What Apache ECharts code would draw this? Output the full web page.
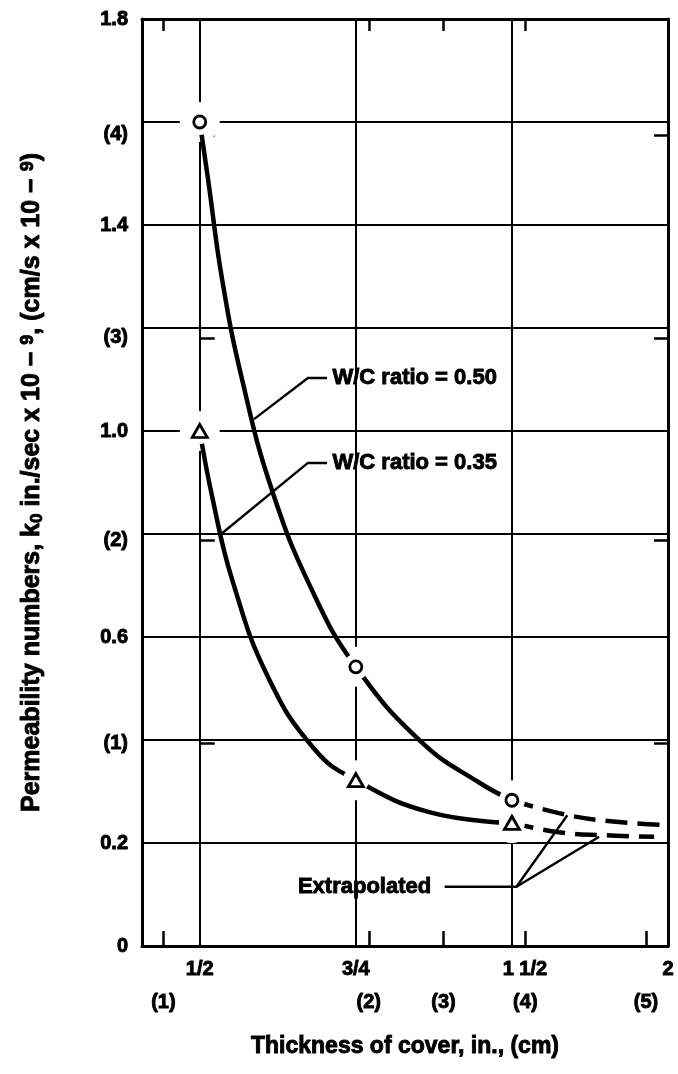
<!DOCTYPE html>
<html><head><meta charset="utf-8">
<script src="https://cdn.jsdelivr.net/npm/echarts@6/dist/echarts.min.js"></script>
<style>html,body{margin:0;padding:0;background:#fff}#c{width:678px;height:1074px}</style>
</head><body><div id="c"></div>
<script>
// ---- data ----
const inchTickPos = [0, 1, 2, 3];
const inchTickLabels = ['1/2', '3/4', '1 1/2', '2'];
const cmTickPosX = [-0.233, 1.083, 1.562, 2.086, 2.859];
const cmTickLabelsX = ['(1)', '(2)', '(3)', '(4)', '(5)'];
const yTickLabelValues = [0, 0.2, 0.6, 1.0, 1.4, 1.8];
const cmTickPosY = [0.394, 0.787, 1.181, 1.575];
const cmTickLabelsY = ['(1)', '(2)', '(3)', '(4)'];

const points050 = [[0, 1.6], [1, 0.542], [2, 0.283]];
const points035 = [[0, 1.0], [1, 0.322], [2, 0.239]];
const curve050 = [[0, 1.6], [0.054, 1.487], [0.144, 1.293], [0.272, 1.099], [0.463, 0.885], [0.719, 0.691], [1, 0.542], [1.428, 0.394], [1.792, 0.317], [2, 0.283]];
const extrap050 = [[2, 0.283], [2.3, 0.258], [2.6, 0.243], [2.99, 0.235]];
const curve035 = [[0, 1.0], [0.08, 0.872], [0.208, 0.711], [0.438, 0.522], [0.738, 0.381], [1, 0.322], [1.47, 0.26], [2, 0.239]];
const extrap035 = [[2, 0.239], [2.3, 0.221], [2.6, 0.215], [2.911, 0.212]];
const annotationTexts = ['W/C ratio = 0.50', 'W/C ratio = 0.35', 'Extrapolated'];
const xTitle = 'Thickness of cover, in., (cm)';
const yTitle = 'Permeability numbers, k{sub|0} in./sec x 10 − {sup|9}, (cm/s x 10 − {sup|9})';

// ---- chart ----
const FONT = '"Liberation Sans", Arial, sans-serif';
const txt = { color: '#000', fontFamily: FONT, fontWeight: 'bold', fontSize: 20, textBorderColor: '#000', textBorderWidth: 0.9 };
const X0 = -0.37, X1 = 3, Y0 = 0, Y1 = 1.8;
const chart = echarts.init(document.getElementById('c'), null, { renderer: 'canvas' });

const lineBase = { type: 'line', z: 3, silent: true, smooth: 0.45, showSymbol: false, symbol: 'none' };

const option = {
  backgroundColor: '#fff',
  animation: false,
  grid: { left: 142, right: 10, top: 19, bottom: 128, containLabel: false },
  xAxis: [
    {
      type: 'value', min: X0, max: X1, position: 'bottom',
      axisLine: { show: true, onZero: false, lineStyle: { color: '#000', width: 3 } },
      axisTick: { show: false, customValues: inchTickPos },
      axisLabel: {
        customValues: inchTickPos, margin: 13, ...txt,
        formatter: v => { const i = inchTickPos.indexOf(v); const s = inchTickLabels[i]; return i === 2 ? '{s|' + s + '}' : s; },
        rich: { s: { ...txt, padding: [0, 0, 0, 26] } }
      },
      splitLine: { show: true, lineStyle: { color: '#000', width: 2 } },
      name: xTitle, nameLocation: 'middle', nameGap: 89,
      nameTextStyle: { ...txt, fontSize: 23 }
    },
    {
      type: 'value', min: X0, max: X1, position: 'bottom',
      axisLine: { show: false },
      axisTick: { show: true, inside: true, length: 15, customValues: cmTickPosX, lineStyle: { color: '#000', width: 2.5 } },
      axisLabel: { customValues: cmTickPosX, margin: 46, ...txt, formatter: v => cmTickLabelsX[cmTickPosX.indexOf(v)] },
      splitLine: { show: false }
    },
    {
      type: 'value', min: X0, max: X1, position: 'top',
      axisLine: { show: true, onZero: false, lineStyle: { color: '#000', width: 3 } },
      axisTick: { show: true, inside: true, length: 12, customValues: cmTickPosX.slice(0, 4), lineStyle: { color: '#000', width: 2.5 } },
      axisLabel: { show: false },
      splitLine: { show: false }
    }
  ],
  yAxis: [
    {
      type: 'value', min: Y0, max: Y1, interval: 0.2, position: 'left',
      axisLine: { show: true, onZero: false, lineStyle: { color: '#000', width: 3 } },
      axisTick: { show: false },
      axisLabel: { customValues: yTickLabelValues, margin: 14, ...txt, formatter: v => v === 0 ? '0' : v.toFixed(1) },
      splitLine: { show: true, lineStyle: { color: '#000', width: 2 } },
      name: yTitle,
      nameLocation: 'middle', nameRotate: 90, nameGap: 96,
      nameTextStyle: {
        ...txt, fontSize: 25,
        rich: {
          sub: { ...txt, fontSize: 17, verticalAlign: 'bottom', padding: [9, 0, 0, 0] },
          sup: { ...txt, fontSize: 18, verticalAlign: 'top', padding: [0, 0, 9, 0] }
        }
      }
    },
    {
      type: 'value', min: Y0, max: Y1, position: 'left',
      axisLine: { show: false },
      axisTick: { show: true, inside: true, length: 15, customValues: cmTickPosY, lineStyle: { color: '#000', width: 2.5 } },
      axisLabel: { customValues: cmTickPosY, margin: 14, ...txt, formatter: v => cmTickLabelsY[cmTickPosY.indexOf(v)] },
      splitLine: { show: false }
    },
    {
      type: 'value', min: Y0, max: Y1, position: 'right',
      axisLine: { show: true, onZero: false, lineStyle: { color: '#000', width: 3 } },
      axisTick: { show: true, inside: true, length: 14, customValues: cmTickPosY, lineStyle: { color: '#000', width: 2.5 } },
      axisLabel: { show: false },
      splitLine: { show: false }
    }
  ],
  series: [
    { // white halo that breaks the grid around each measured point
      type: 'scatter', silent: true, z: 2, symbol: 'circle', symbolSize: 40,
      itemStyle: { color: '#fff', opacity: 1 }, data: points050.concat(points035)
    },
    { ...lineBase, data: curve050, lineStyle: { color: '#000', width: 4.5 } },
    { ...lineBase, data: extrap050, lineStyle: { color: '#000', width: 4.5, type: [22, 10] } },
    { ...lineBase, data: curve035, lineStyle: { color: '#000', width: 4.5 } },
    { ...lineBase, data: extrap035, lineStyle: { color: '#000', width: 4.5, type: [22, 10] } },
    { // leader lines of the annotations
      type: 'lines', coordinateSystem: 'cartesian2d', polyline: true, silent: true, z: 3,
      symbol: ['none', 'arrow'], symbolSize: [4, 10],
      lineStyle: { color: '#000', width: 2.4, opacity: 1 },
      data: [
        { coords: [[0.815, 1.103], [0.693, 1.103], [0.348, 1.023]] },
        { coords: [[0.815, 0.938], [0.693, 0.938], [0.137, 0.800]] },
        { coords: [[1.569, 0.115], [2.029, 0.115], [2.355, 0.254]] },
        { coords: [[2.029, 0.115], [2.559, 0.212]] }
      ]
    },
    { // small halo that cuts the curves next to each point
      type: 'scatter', silent: true, z: 4, symbol: 'circle', symbolSize: 26,
      itemStyle: { color: '#fff', opacity: 1 }, data: points050.concat(points035)
    },
    {
      type: 'scatter', z: 5, silent: true, symbol: 'circle', symbolSize: 12, data: points050,
      itemStyle: { color: '#fff', borderColor: '#000', borderWidth: 2.8, opacity: 1 }
    },
    {
      type: 'scatter', z: 5, silent: true, symbol: 'triangle', symbolSize: [15, 13], data: points035,
      itemStyle: { color: '#fff', borderColor: '#000', borderWidth: 2.8, opacity: 1 }
    },
    { // annotation texts
      type: 'scatter', z: 6, silent: true, symbolSize: 1, itemStyle: { color: 'rgba(0,0,0,0)', opacity: 1 },
      label: { show: true, ...txt, fontSize: 22 },
      data: [
        { value: [0.847, 1.103], label: { position: 'right', distance: 0, formatter: annotationTexts[0] } },
        { value: [0.847, 0.938], label: { position: 'right', distance: 0, formatter: annotationTexts[1] } },
        { value: [1.486, 0.115], label: { position: 'left', distance: 0, formatter: annotationTexts[2] } }
      ]
    }
  ]
};
chart.setOption(option);
</script>
</body></html>
